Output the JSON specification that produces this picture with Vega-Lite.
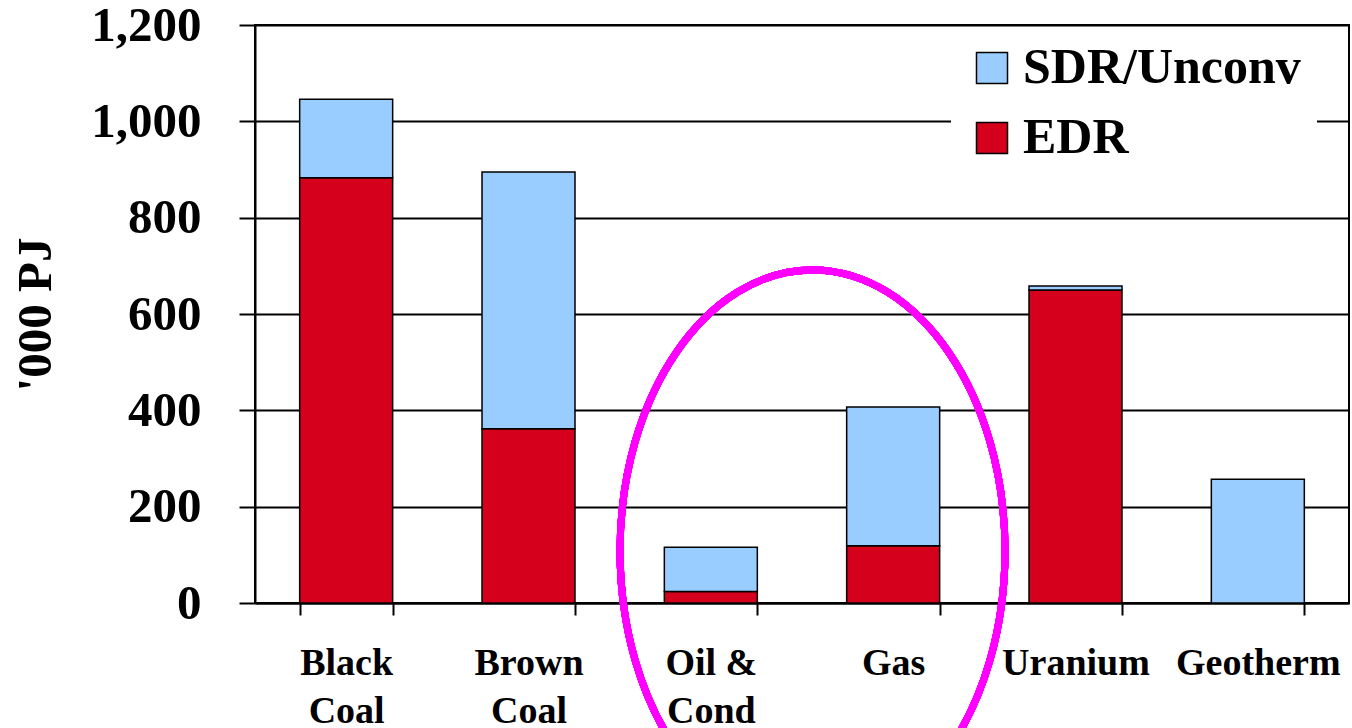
{
  "$schema": "https://vega.github.io/schema/vega-lite/v6.json",
  "width": 1094,
  "height": 578,
  "autosize": {"type": "none"},
  "padding": {"left": 255, "top": 25, "right": 3, "bottom": 125},
  "background": "white",
  "config": {
    "font": "Liberation Serif",
    "view": {"stroke": "black", "strokeWidth": 2}
  },
  "data": {
    "values": [
      {"source": "Black Coal", "series": "EDR", "value": 883},
      {"source": "Black Coal", "series": "SDR/Unconv", "value": 163},
      {"source": "Brown Coal", "series": "EDR", "value": 362},
      {"source": "Brown Coal", "series": "SDR/Unconv", "value": 533},
      {"source": "Oil & Cond", "series": "EDR", "value": 24},
      {"source": "Oil & Cond", "series": "SDR/Unconv", "value": 92},
      {"source": "Gas", "series": "EDR", "value": 119},
      {"source": "Gas", "series": "SDR/Unconv", "value": 288},
      {"source": "Uranium", "series": "EDR", "value": 650},
      {"source": "Uranium", "series": "SDR/Unconv", "value": 8},
      {"source": "Geotherm", "series": "SDR/Unconv", "value": 257}
    ]
  },
  "layer": [
    {
      "mark": {"type": "bar", "stroke": "black", "strokeWidth": 1.5},
      "encoding": {
        "x": {
          "field": "source",
          "type": "nominal",
          "sort": ["Black Coal", "Brown Coal", "Oil & Cond", "Gas", "Uranium", "Geotherm"],
          "scale": {"paddingInner": 0.49, "paddingOuter": 0.245},
          "axis": {
            "title": null,
            "labelAngle": 0,
            "labelFont": "Liberation Serif",
            "labelFontSize": 38,
            "labelFontWeight": "bold",
            "labelColor": "black",
            "labelLineHeight": 48,
            "labelPadding": 29,
            "labelExpr": "datum.label == 'Oil & Cond' ? ['Oil &', 'Cond'] : split(datum.label, ' ')",
            "tickBand": "extent",
            "tickSize": 12,
            "tickWidth": 2,
            "tickColor": "black",
            "domainColor": "black",
            "domainWidth": 2,
            "grid": false
          }
        },
        "y": {
          "field": "value",
          "type": "quantitative",
          "stack": "zero",
          "scale": {"domain": [0, 1200], "nice": false},
          "axis": {
            "title": "'000 PJ",
            "titleFont": "Liberation Serif",
            "titleFontSize": 49,
            "titleFontWeight": "bold",
            "titleColor": "black",
            "titlePadding": 30,
            "values": [0, 200, 400, 600, 800, 1000, 1200],
            "format": ",d",
            "labelFont": "Liberation Serif",
            "labelFontSize": 49,
            "labelFontWeight": "bold",
            "labelColor": "black",
            "labelPadding": 38,
            "tickSize": 16,
            "tickWidth": 2,
            "tickColor": "black",
            "domainColor": "black",
            "domainWidth": 2,
            "grid": true,
            "gridColor": "black",
            "gridWidth": 2,
            "gridOpacity": 1
          }
        },
        "color": {
          "field": "series",
          "type": "nominal",
          "scale": {"domain": ["SDR/Unconv", "EDR"], "range": ["#99CCFF", "#D5001C"]},
          "legend": {
            "title": null,
            "orient": "none",
            "legendX": 696,
            "legendY": 2,
            "fillColor": "white",
            "padding": 16,
            "symbolType": "square",
            "symbolSize": 961,
            "symbolStrokeColor": "black",
            "symbolStrokeWidth": 1.5,
            "symbolOpacity": 1,
            "labelFont": "Liberation Serif",
            "labelFontSize": 50,
            "labelFontWeight": "bold",
            "labelColor": "black",
            "labelOffset": 6,
            "labelLimit": 400,
            "rowPadding": 20
          }
        },
        "order": {"field": "series", "sort": "ascending"}
      }
    },
    {
      "mark": {
        "type": "point",
        "shape": "M 2.942 0 C 2.942 1.552 2.0802 2.81 1.017 2.81 C -0.0462 2.81 -0.908 1.552 -0.908 0 C -0.908 -1.552 -0.0462 -2.81 1.017 -2.81 C 2.0802 -2.81 2.942 -1.552 2.942 0 Z",
        "size": 40000,
        "filled": false,
        "stroke": "#FF00FF",
        "strokeWidth": 7,
        "opacity": 1
      },
      "encoding": {
        "x": {"datum": "Oil & Cond", "type": "nominal"},
        "y": {"datum": 108, "type": "quantitative"}
      }
    }
  ]
}
